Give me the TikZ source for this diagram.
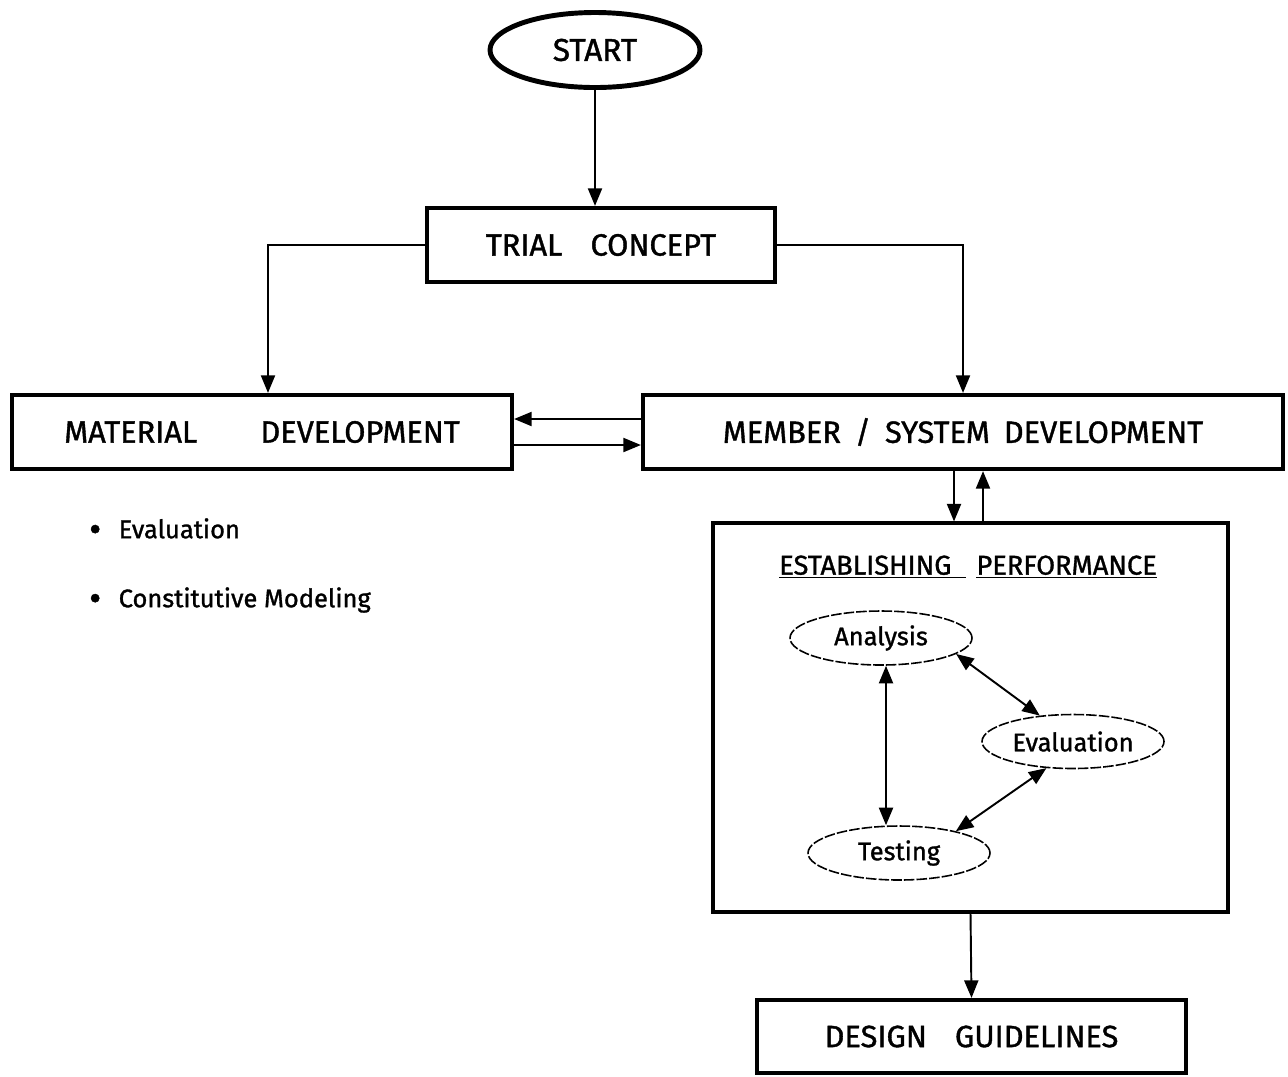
\documentclass[tikz,border=0pt]{standalone}
\usepackage{fontspec}
\setmainfont{Fira Sans}[FakeBold=1.2]
\usetikzlibrary{arrows.meta}
\usetikzlibrary{shapes.geometric}
\usetikzlibrary{positioning}

\begin{document}
\begin{tikzpicture}
\tikzstyle{box}=[draw, line width=2.4pt, minimum height=1.48cm, font=\fontsize{17.5}{20}\selectfont]
\tikzstyle{oval}=[draw, ellipse, line width=0.9pt, dash pattern=on 6pt off 1.2pt, minimum width=3.64cm, minimum height=1.08cm, inner sep=0pt, font=\fontsize{14.5}{17}\selectfont]
\tikzstyle{lbl}=[anchor=west, font=\fontsize{14.5}{17}\selectfont]
\tikzstyle{arr}=[line width=1.1pt, -{Triangle[length=10pt,width=8pt]}]
\tikzstyle{darr}=[line width=1.1pt, {Triangle[length=10pt,width=8pt]}-{Triangle[length=10pt,width=8pt]}]
\useasboundingbox (0,0) rectangle (25.76,-21.52);
\node[draw, ellipse, line width=2.8pt, minimum width=4.2cm, minimum height=1.5cm, font=\fontsize{18}{20}\selectfont] (start) at (11.9,-1.0) {START};
\node[box, minimum width=6.96cm] (trial) at (12.02,-4.9) {TRIAL\hspace{16pt}CONCEPT};
\node[box, minimum width=10.0cm] (material) at (5.24,-8.64) {MATERIAL\hspace{36pt}DEVELOPMENT};
\node[box, minimum width=12.8cm] (member) at (19.26,-8.64) {MEMBER\hspace{8pt}/\hspace{8pt}SYSTEM\hspace{8pt}DEVELOPMENT};
\node[draw, line width=1.8pt, minimum width=10.3cm, minimum height=7.78cm] (perf) at (19.41,-14.35) {};
\node[box, minimum width=8.58cm, minimum height=1.46cm] (design) at (19.43,-20.73) {DESIGN\hspace{16pt}GUIDELINES};
\node[lbl] (b1) at (1.66,-10.6) {\raisebox{-2pt}{\fontsize{21}{17}\selectfont\textbullet}\hspace{10pt}Evaluation};
\node[lbl] (b2) at (1.66,-12.0) {\raisebox{-2pt}{\fontsize{21}{17}\selectfont\textbullet}\hspace{10pt}Constitutive Modeling};
\node[font=\fontsize{15.5}{17}\selectfont] (hdr) at (19.36,-11.34) {\underline{ESTABLISHING\ \ }\hspace{6pt}\underline{PERFORMANCE}};
\node[oval] (analysis) at (17.62,-12.76) {Analysis};
\node[oval] (evaluation) at (21.46,-14.83) {Evaluation};
\node[oval] (testing) at (17.98,-17.06) {Testing};
\coordinate (v1) at (17.72,0);
\coordinate (dn) at (19.08,0);
\coordinate (up) at (19.66,0);
% main flow
\draw[arr] (start.south) -- (start.south |- trial.north);
\draw[arr] (trial.west) -| ([xshift=0.12cm]material.north);
\draw[arr] (trial.east) -| (member.north);
\draw[arr] ([yshift=0.26cm]member.west) -- ([yshift=0.26cm]material.east);
\draw[arr] ([yshift=-0.26cm]material.east) -- ([yshift=-0.26cm]member.west);
\draw[arr] (member.south -| dn) -- (perf.north -| dn);
\draw[arr] (perf.north -| up) -- (member.south -| up);
\draw[arr] (perf.south) -- (design.north);
% inside the loop
\draw[darr] (analysis.south -| v1) -- (testing.north -| v1);
\foreach \i/\j in {analysis.-12/evaluation.142, testing.21/evaluation.-135}{
\draw[darr] (\i) -- (\j);}
\end{tikzpicture}
\end{document}
